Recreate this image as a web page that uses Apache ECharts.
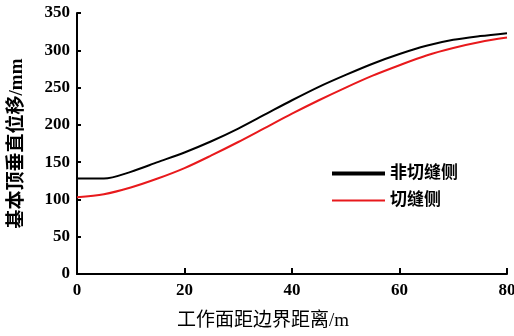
<!DOCTYPE html>
<html>
<head>
<meta charset="utf-8">
<script src="https://cdn.jsdelivr.net/npm/echarts@6/dist/echarts.min.js"></script>
<style>
  html, body { margin: 0; padding: 0; background: #fff; }
  #chart { width: 514px; height: 336px; }
</style>
</head>
<body>
<div id="chart"></div>
<script>
// Distance from working face to boundary (m)
const distance = [0, 5, 10, 15, 20, 25, 30, 35, 40, 45, 50, 55, 60, 65, 70, 75, 80];
// Roof vertical displacement (mm), non-cut side
const uncutSide = [128, 128, 137, 150, 163, 178, 195, 214, 233, 251, 267, 282, 295, 306, 314, 319, 323];
// Roof vertical displacement (mm), cut side
const cutSide = [103, 107, 116, 128, 142, 159, 177, 196, 215, 233, 250, 266, 280, 293, 303, 311, 317];

const seriesNames = ['非切缝侧', '切缝侧'];
const xName = '工作面距边界距离/m';
const yName = '基本顶垂直位移/mm';

const serif = '"Liberation Serif", "Times New Roman", "Noto Sans CJK SC", serif';

const chart = echarts.init(document.getElementById('chart'), null, { renderer: 'canvas' });

chart.setOption({
  animation: false,
  backgroundColor: '#fff',
  grid: { left: 77, right: 7, top: 13, bottom: 62, containLabel: false, outerBoundsMode: 'none' },
  legend: {
    left: 330,
    top: 165,
    padding: 0,
    orient: 'vertical',
    itemWidth: 53,
    itemHeight: 14,
    itemGap: 10,
    itemStyle: { opacity: 0 },
    textStyle: { fontFamily: serif, fontWeight: 'bold', fontSize: 17, color: '#000' },
    data: [
      { name: seriesNames[0], lineStyle: { width: 4 } },
      { name: seriesNames[1], lineStyle: { width: 2 } }
    ]
  },
  xAxis: {
    type: 'value',
    min: 0, max: 80, interval: 20,
    name: xName,
    nameLocation: 'middle',
    nameGap: 38,
    nameTextStyle: { fontFamily: serif, fontSize: 19, color: '#000', padding: [0, 58, 0, 0] },
    axisLine: { show: true, onZero: false, lineStyle: { color: '#000', width: 2 } },
    axisTick: { show: true, inside: true, length: 6, lineStyle: { color: '#000', width: 2 } },
    axisLabel: { fontFamily: serif, fontWeight: 'bold', fontSize: 17, color: '#000', margin: 8 },
    splitLine: { show: false }
  },
  yAxis: {
    type: 'value',
    min: 0, max: 350, interval: 50,
    name: yName,
    nameLocation: 'middle',
    nameRotate: 90,
    nameGap: 50,
    nameTextStyle: { fontFamily: serif, fontWeight: 'bold', fontSize: 19, color: '#000' },
    axisLine: { show: true, lineStyle: { color: '#000', width: 2 } },
    axisTick: { show: true, inside: true, length: 4, lineStyle: { color: '#000', width: 2 } },
    axisLabel: { fontFamily: serif, fontWeight: 'bold', fontSize: 17, color: '#000', margin: 7 },
    splitLine: { show: false }
  },
  series: [
    {
      name: seriesNames[0],
      type: 'line',
      data: distance.map((d, i) => [d, uncutSide[i]]),
      smooth: 0.3,
      symbol: 'none',
      lineStyle: { color: '#000', width: 2 },
      itemStyle: { color: '#000' }
    },
    {
      name: seriesNames[1],
      type: 'line',
      data: distance.map((d, i) => [d, cutSide[i]]),
      smooth: 0.3,
      symbol: 'none',
      lineStyle: { color: '#e8191c', width: 2 },
      itemStyle: { color: '#e8191c' }
    }
  ]
});
</script>
</body>
</html>
